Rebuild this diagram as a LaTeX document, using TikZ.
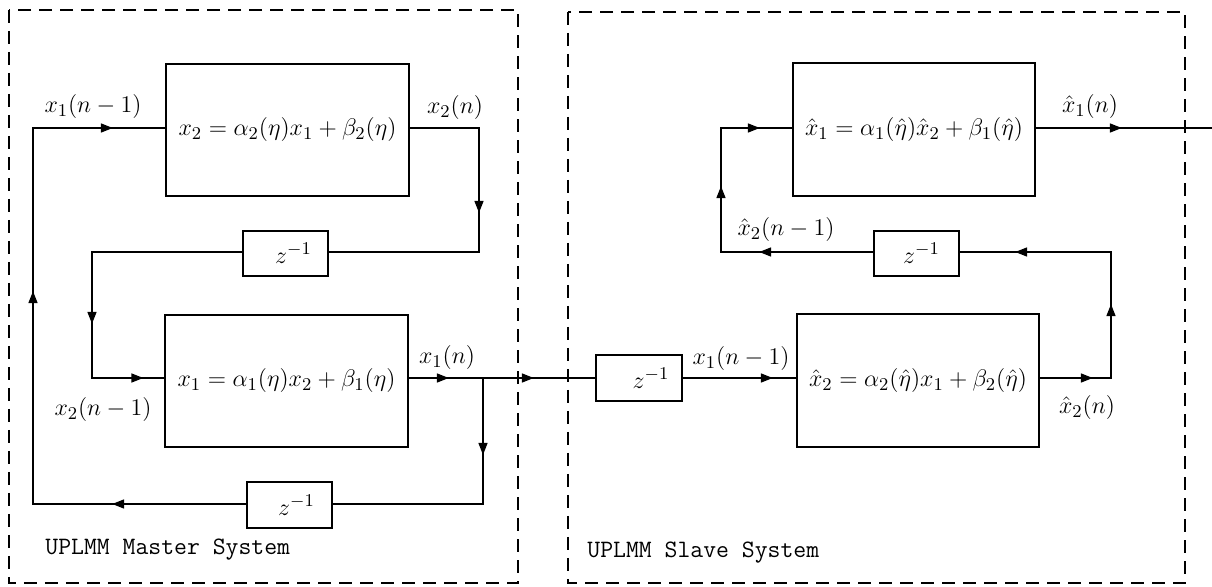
\documentclass[tikz,border=0pt]{standalone}
\usetikzlibrary{arrows.meta,decorations.markings}
\begin{document}
\begin{tikzpicture}[x=0.5pt,y=-0.5pt,
  every node/.style={font=\fontsize{12.5}{15}\selectfont},
  blk/.style={draw,line width=0.95pt,inner sep=0pt},
  wire/.style={line width=0.95pt},
  ma/.style={postaction={decorate,decoration={markings,mark=at position #1 with {\arrow{Triangle[length=6pt,width=4.4pt]}}}}},
  frame/.style={line width=0.85pt,dash pattern=on 6.5pt off 4pt},
  lbl/.style={inner sep=0pt},
  ttl/.style={inner sep=0pt,anchor=west,font=\fontsize{12.5}{15}\selectfont\ttfamily}
]
\useasboundingbox (0,0) rectangle (1212,587);

% frames
\draw[frame] (9,10) rectangle (518,583);
\draw[frame] (568,12) rectangle (1185,583);

% master blocks
\node[blk,minimum width=121.5pt,minimum height=66pt] (A2) at (287.5,130) {$x_2=\alpha_2(\eta)x_1+\beta_2(\eta)$};
\node[blk,minimum width=121.5pt,minimum height=66pt] (A1) at (286.5,381) {$x_1=\alpha_1(\eta)x_2+\beta_1(\eta)$};
\node[blk,minimum width=42.5pt,minimum height=22.5pt] (ZA) at (285.5,253.5) {\hspace*{8pt}$z^{-1}$};
\node[blk,minimum width=42.5pt,minimum height=23pt] (ZB) at (289.5,505) {\hspace*{7pt}$z^{-1}$};

% slave blocks
\node[blk,minimum width=43pt,minimum height=23pt] (ZC) at (639,378) {\hspace*{12pt}$z^{-1}$};
\node[blk,minimum width=42.5pt,minimum height=22.5pt] (ZD) at (916.5,253.5) {\hspace*{5pt}$z^{-1}$};
\node[blk,minimum width=121pt,minimum height=66.5pt] (B1) at (914,129.5) {$\hat x_1=\alpha_1(\hat\eta)\hat x_2+\beta_1(\hat\eta)$};
\node[blk,minimum width=121pt,minimum height=66.5pt] (B2) at (918,380.5) {$\hat x_2=\alpha_2(\hat\eta)x_1+\beta_2(\hat\eta)$};

% labels
\node[lbl] (l1) at (93,107) {$x_1(n-1)$};
\node[lbl] (l2) at (455,108) {$x_2(n)$};
\node[lbl] (l3) at (103,410) {$x_2(n-1)$};
\node[lbl] (l4) at (447,358) {$x_1(n)$};
\node[lbl] (l5) at (786,230) {$\hat x_2(n-1)$};
\node[lbl] (l6) at (1090,107) {$\hat x_1(n)$};
\node[lbl] (l7) at (741,359) {$x_1(n-1)$};
\node[lbl] (l8) at (1087,408) {$\hat x_2(n)$};
\node[ttl] (ml) at (45,550) {UPLMM Master System};
\node[ttl] (sl) at (587,553) {UPLMM Slave System};

% corners
\coordinate (pA) at (33,504);
\coordinate (pB) at (33,128);
\coordinate (pC) at (479,128);
\coordinate (pD) at (479,252);
\coordinate (pE) at (92,252);
\coordinate (pF) at (92,378);
\coordinate (pJ) at (483,378);
\coordinate (pK) at (483,504);
\coordinate (qA) at (721,252);
\coordinate (qB) at (721,128);
\coordinate (qC) at (1111,378);
\coordinate (qD) at (1111,252);
\coordinate (qO) at (1212,128);

% master connectors
\draw[wire,ma=67pt,ma=213pt,ma=334.5pt] (pA -| ZB.west) -- (pA) -- (pB) -- (pB -| A2.west);
\draw[wire,ma=77pt] (pC -| A2.east) -- (pC) -- (pD) -- (pD -| ZA.east);
\draw[wire,ma=111pt,ma=163.75pt] (pE -| ZA.west) -- (pE) -- (pF) -- (pF -| A1.west);
\draw[wire,ma=20pt,ma=62.5pt] (pJ -| A1.east) -- (pJ) -- (ZC.west);
\draw[wire,ma=38.5pt] (pJ) -- (pK) -- (pK -| ZB.east);

% slave connectors
\draw[wire,ma=45pt] (ZC.east) -- (ZC.east -| B2.west);
\draw[wire,ma=26.5pt,ma=72.5pt,ma=146.5pt] (qC -| B2.east) -- (qC) -- (qD) -- (qD -| ZD.east);
\draw[wire,ma=57pt,ma=109pt,ma=157.5pt] (qA -| ZD.west) -- (qA) -- (qB) -- (qB -| B1.west);
\draw[wire,ma=43pt] (qB -| B1.east) -- (qO);
\end{tikzpicture}
\end{document}
